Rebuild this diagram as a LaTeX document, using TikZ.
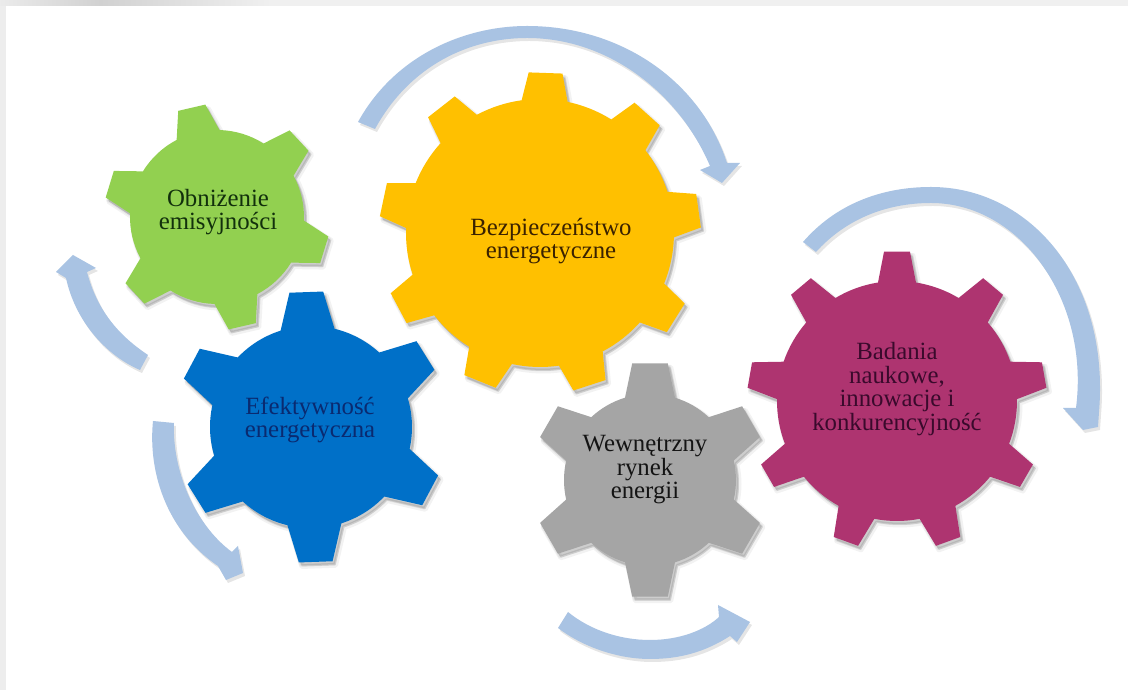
\documentclass[tikz,border=0pt]{standalone}
\usepackage{fontspec}
\setmainfont{Liberation Serif}
\definecolor{cgreen}{HTML}{92D050}
\definecolor{cblue}{HTML}{0070C8}
\definecolor{cyellow}{HTML}{FFC000}
\definecolor{cgray}{HTML}{A5A5A5}
\definecolor{cpurple}{HTML}{AE3470}
\definecolor{carrow}{HTML}{A9C3E3}
\definecolor{tgreen}{HTML}{12300C}
\definecolor{tblue}{HTML}{0A2A70}
\definecolor{tyellow}{HTML}{3A2200}
\definecolor{tgray}{HTML}{141414}
\definecolor{tpurple}{HTML}{3A0A2C}
\tikzset{
  geartext/.style={align=center,font=\fontsize{24.8}{23.5}\selectfont,inner sep=0pt},
  softshadow/.style={draw=black,draw opacity=.05,fill=black,fill opacity=.10,line join=round},
  arrowbody/.style={fill=carrow,line join=round}
}
% #1 cx, #2 cy (pixels, y down), #3 R outer, #4 R body, #5 teeth, #6 first angle, #7 tip half-width, #8 base half-width, #9 colour
\newcommand{\cogwheel}[9]{%
  \pgfmathsetmacro{\db}{asin(#8/#4)}%
  \pgfmathsetmacro{\dt}{atan(#7/#3)}%
  \pgfmathsetmacro{\stepa}{360/#5}%
  \pgfmathsetmacro{\lastt}{#5-1}%
  \pgfmathsetmacro{\cyup}{690-#2}%
  \foreach \sx/\sy/\lw in {3/-4/5,2/-3/2.5}{
    \begin{scope}[shift={(#1+\sx,\cyup+\sy)}]
      \path[softshadow,line width=\lw pt] (#6-\db:#4)
        \foreach \k in {0,...,\lastt}{
          -- (#6+\k*\stepa-\dt:#3) -- (#6+\k*\stepa+\dt:#3) -- (#6+\k*\stepa+\db:#4)
          arc[start angle=#6+\k*\stepa+\db, end angle=#6+\k*\stepa+\stepa-\db, radius=#4]
        } -- cycle;
    \end{scope}
  }
  \begin{scope}[shift={(#1,\cyup)}]
    \fill[#9] (#6-\db:#4)
      \foreach \k in {0,...,\lastt}{
        -- (#6+\k*\stepa-\dt:#3) -- (#6+\k*\stepa+\dt:#3) -- (#6+\k*\stepa+\db:#4)
        arc[start angle=#6+\k*\stepa+\db, end angle=#6+\k*\stepa+\stepa-\db, radius=#4]
      } -- cycle;
  \end{scope}
}
\begin{document}
\begin{tikzpicture}[x=1pt,y=1pt]
\useasboundingbox (0,0) rectangle (1128,690);
\fill[white] (0,0) rectangle (1128,690);
% frame of the page
\fill[black!7] (0,0) rectangle (6,690);
\shade[left color=black!8,right color=black!18] (0,684) rectangle (100,690);
\shade[left color=black!18,right color=black!6] (100,684) rectangle (270,690);
\fill[black!6] (270,684) rectangle (1128,690);

\begin{scope}[y=-1pt,shift={(0,-690)}]
  % arrow shadows
  \begin{scope}[shift={(2,3)}]
    \fill[black,opacity=.10] (358,122) .. controls (395,55) and (465,26) .. (527,26) .. controls (620,26) and (700,80) .. (727,163) -- (740,163) -- (722,183) -- (700,170) -- (710,166) .. controls (680,95) and (610,38) .. (527,38) .. controls (470,38) and (410,65) .. (375,129) -- cycle;
    \fill[black,opacity=.10] (803,242) .. controls (835,205) and (880,187) .. (931,187) .. controls (1030,187) and (1110,280) .. (1099,412) -- (1098,427) -- (1083,430) -- (1063,408) -- (1076,408) .. controls (1090,300) and (1020,203) .. (931,203) .. controls (885,203) and (845,220) .. (816,252) -- cycle;
    \fill[black,opacity=.10] (568,612) .. controls (590,630) and (620,640) .. (650,640) .. controls (680,640) and (705,630) .. (719,617) -- (718,605) -- (750,622) -- (737,642) -- (730,636) .. controls (705,652) and (680,659) .. (650,659) .. controls (615,659) and (580,645) .. (558,628) -- cycle;
    \fill[black,opacity=.10] (153,421) .. controls (148,470) and (165,530) .. (218,566) -- (226,580) -- (243,573) -- (238,546) -- (232,552) .. controls (195,525) and (172,470) .. (174,423) -- cycle;
    \fill[black,opacity=.10] (148,355) .. controls (118,335) and (97,310) .. (87,272) -- (96,268) -- (73,255) -- (56,272) -- (66,278) .. controls (75,320) and (105,355) .. (140,370) -- cycle;
  \end{scope}
  % arrows
  \fill[arrowbody] (358,122) .. controls (395,55) and (465,26) .. (527,26) .. controls (620,26) and (700,80) .. (727,163) -- (740,163) -- (722,183) -- (700,170) -- (710,166) .. controls (680,95) and (610,38) .. (527,38) .. controls (470,38) and (410,65) .. (375,129) -- cycle;
  \fill[arrowbody] (803,242) .. controls (835,205) and (880,187) .. (931,187) .. controls (1030,187) and (1110,280) .. (1099,412) -- (1098,427) -- (1083,430) -- (1063,408) -- (1076,408) .. controls (1090,300) and (1020,203) .. (931,203) .. controls (885,203) and (845,220) .. (816,252) -- cycle;
  \fill[arrowbody] (568,612) .. controls (590,630) and (620,640) .. (650,640) .. controls (680,640) and (705,630) .. (719,617) -- (718,605) -- (750,622) -- (737,642) -- (730,636) .. controls (705,652) and (680,659) .. (650,659) .. controls (615,659) and (580,645) .. (558,628) -- cycle;
  \fill[arrowbody] (153,421) .. controls (148,470) and (165,530) .. (218,566) -- (226,580) -- (243,573) -- (238,546) -- (232,552) .. controls (195,525) and (172,470) .. (174,423) -- cycle;
  \fill[arrowbody] (148,355) .. controls (118,335) and (97,310) .. (87,272) -- (96,268) -- (73,255) -- (56,272) -- (66,278) .. controls (75,320) and (105,355) .. (140,370) -- cycle;
\end{scope}

% gears
\cogwheel{217}{217}{113}{87}{6}{103}{14}{22}{cgreen}
\cogwheel{540}{233}{161}{134}{9}{88}{17}{23}{cyellow}
\cogwheel{897}{401}{150}{120}{9}{90}{13}{19}{cpurple}
\cogwheel{650}{480}{118}{86}{6}{90}{18}{25}{cgray}
\cogwheel{311}{427}{136}{101}{6}{92}{17}{27}{cblue}

% labels
\begin{scope}[y=-1pt,shift={(0,-690)}]
  \node[geartext,text=tgreen] (green) at (218,212) {Obniżenie\\emisyjności};
  \node[geartext,text=tblue] (blue) at (310,420) {Efektywność\\energetyczna};
  \node[geartext,text=tyellow] (yellow) at (551,241) {Bezpieczeństwo\\energetyczne};
  \node[geartext,text=tgray] (gray) at (645,470) {Wewnętrzny\\rynek\\energii};
  \node[geartext,text=tpurple] (purple) at (897,389) {Badania\\naukowe,\\innowacje i\\konkurencyjność};
\end{scope}
\end{tikzpicture}
\end{document}
